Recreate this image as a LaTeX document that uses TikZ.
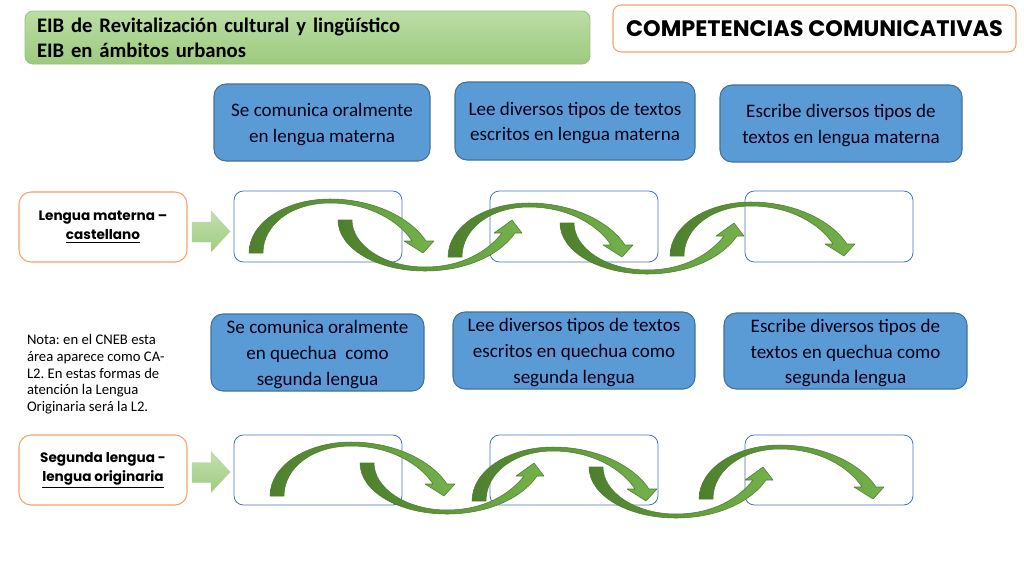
\documentclass[tikz,border=0pt]{standalone}
\usepackage{fontspec}
\setmainfont{Carlito}
\newfontfamily\comicfont{Poppins}
\frenchspacing
\definecolor{bluefill}{HTML}{5B9BD5}
\definecolor{blueedge}{HTML}{41719C}
\definecolor{boxedge}{HTML}{4472C4}
\definecolor{orangeedge}{HTML}{F3A46C}
\definecolor{hdrtop}{HTML}{BCDDA6}
\definecolor{hdrbot}{HTML}{9CCA7E}
\definecolor{hdredge}{HTML}{98C27C}
\definecolor{arrdark}{HTML}{4E7F2E}
\definecolor{arrlight}{HTML}{74B24B}
\definecolor{arredge}{HTML}{4F7D31}
\definecolor{lgtop}{HTML}{C2E0AD}
\definecolor{lgbot}{HTML}{9FCB82}
\newcommand{\dropstrut}{\rule{0pt}{13pt}}
\begin{document}
\begin{tikzpicture}[x=0.75pt,y=-0.75pt,
  every node/.style={inner sep=0pt, outer sep=0pt},
  hdrbox/.style={draw=hdredge, line width=0.6pt, rounded corners=6pt,
    top color=hdrtop, bottom color=hdrbot, minimum width=423.75pt,
    minimum height=39.75pt, text width=405.75pt, align=left,
    font=\bfseries\fontsize{15.5pt}{18.75pt}\selectfont},
  titlebox/.style={draw=orangeedge, line width=0.8pt, rounded corners=6pt,
    fill=white, minimum width=302.25pt, minimum height=35.25pt,
    font=\comicfont\bfseries\fontsize{16.8pt}{19pt}\selectfont},
  compbox/.style={draw=blueedge, line width=0.8pt, rounded corners=9pt,
    fill=bluefill, align=center, text=black!90!blue,
    font=\fontsize{14.3pt}{19.2pt}\selectfont},
  langbox/.style={draw=orangeedge, line width=0.8pt, rounded corners=9pt,
    fill=white, minimum width=126pt, minimum height=52.5pt, align=center,
    font=\comicfont\bfseries\fontsize{10.2pt}{14.2pt}\selectfont},
  slotbox/.style={draw=boxedge, line width=0.6pt, rounded corners=7pt,
    minimum width=126pt},
  notetext/.style={align=left, anchor=north west,
    font=\fontsize{11pt}{12.7pt}\selectfont},
  curvearrow/.style={left color=arrdark, right color=arrlight,
    draw=arredge, line width=0.4pt, line join=round},
  feedarrow/.style={top color=lgtop, bottom color=lgbot, draw=lgbot!80!white,
    line width=0.3pt},
  overarc/.pic={
    \path[curvearrow] (0,0) .. controls (0,-30) and (36,-54) .. (81,-54)
      .. controls (125,-54) and (162,-35) .. (177,-12) -- (185,-12)
      -- (174,0) -- (155,-12) -- (163,-12)
      .. controls (150,-32) and (120,-50) .. (81,-50)
      .. controls (42,-50) and (14,-28) .. (14,0) -- cycle;
  },
  underarc/.pic={
    \path[curvearrow] (0,0) .. controls (0,28) and (38,51) .. (87,51)
      .. controls (128,51) and (162,35) .. (177,13) -- (184,13)
      -- (174,0) -- (156,13) -- (164,13)
      .. controls (150,31) and (124,47) .. (87,47)
      .. controls (46,47) and (14,25) .. (14,0) -- cycle;
  },
  feed/.pic={
    \path[feedarrow] (0,-9.5) -- (19,-9.5) -- (19,-20.5) -- (38,0)
      -- (19,20.5) -- (19,10.5) -- (0,10.5) -- cycle;
  }
]
\useasboundingbox (0,0) rectangle (1024,576);
\fill[white] (0,0) rectangle (1024,576);

% header and title
\node[hdrbox] (hdr) at (307.5,37.5) {EIB de Revitalización cultural y lingüístico\\EIB en ámbitos urbanos};
\node[titlebox] (title) at (814.5,28.5) {COMPETENCIAS COMUNICATIVAS};

% competence boxes, row 1
\node[compbox, minimum width=162pt, minimum height=57.75pt] (b1) at (322,122.5)
  {\dropstrut Se comunica oralmente\\en lengua materna};
\node[compbox, minimum width=180pt, minimum height=58.5pt] (b2) at (575,121)
  {\dropstrut Lee diversos tipos de textos\\escritos en lengua materna};
\node[compbox, minimum width=181.5pt, minimum height=57.75pt] (b3) at (841,123.5)
  {\dropstrut Escribe diversos tipos de\\textos en lengua materna};

% competence boxes, row 2
\node[compbox, minimum width=159.75pt, minimum height=57.75pt] (c1) at (317.5,352.5)
  {\dropstrut Se comunica oralmente\\en quechua~ como\\segunda lengua};
\node[compbox, minimum width=181.5pt, minimum height=57.75pt] (c2) at (574,350.5)
  {\dropstrut Lee diversos tipos de textos\\escritos en quechua como\\segunda lengua};
\node[compbox, minimum width=182.25pt, minimum height=57pt] (c3) at (845.5,351)
  {\dropstrut Escribe diversos tipos de\\textos en quechua como\\segunda lengua};

% note
\node[notetext] (note) at (27,334)
  {Nota: en el CNEB esta\\área aparece como CA-\\L2. En estas formas de\\atención la Lengua\\Originaria será la L2.};

% language boxes
\node[langbox] (l1) at (103,227) {Lengua materna –\\\underline{castellano}};
\node[langbox] (l2) at (103,470) {Segunda lengua -\\\underline{lengua originaria}};

% feed arrows
\pic at (192,231.5) {feed};
\pic at (192,472) {feed};

% slot boxes
\node[slotbox, minimum height=53.25pt] (e11) at (318,226.5) {};
\node[slotbox, minimum height=53.25pt] (e12) at (574,226.5) {};
\node[slotbox, minimum height=53.25pt] (e13) at (829,226.5) {};
\node[slotbox, minimum height=52.5pt] (e21) at (318,470) {};
\node[slotbox, minimum height=52.5pt] (e22) at (574,470) {};
\node[slotbox, minimum height=52.5pt] (e23) at (829,470) {};

% curved arrows row 1
\pic at (249,253) {overarc};
\pic at (448,257) {overarc};
\pic at (670,256) {overarc};
\pic at (338,220) {underarc};
\pic at (560,223) {underarc};

% curved arrows row 2
\pic at (270,496) {overarc};
\pic at (472,501) {overarc};
\pic at (699,499) {overarc};
\pic at (360,463) {underarc};
\pic at (589,467) {underarc};
\end{tikzpicture}
\end{document}
